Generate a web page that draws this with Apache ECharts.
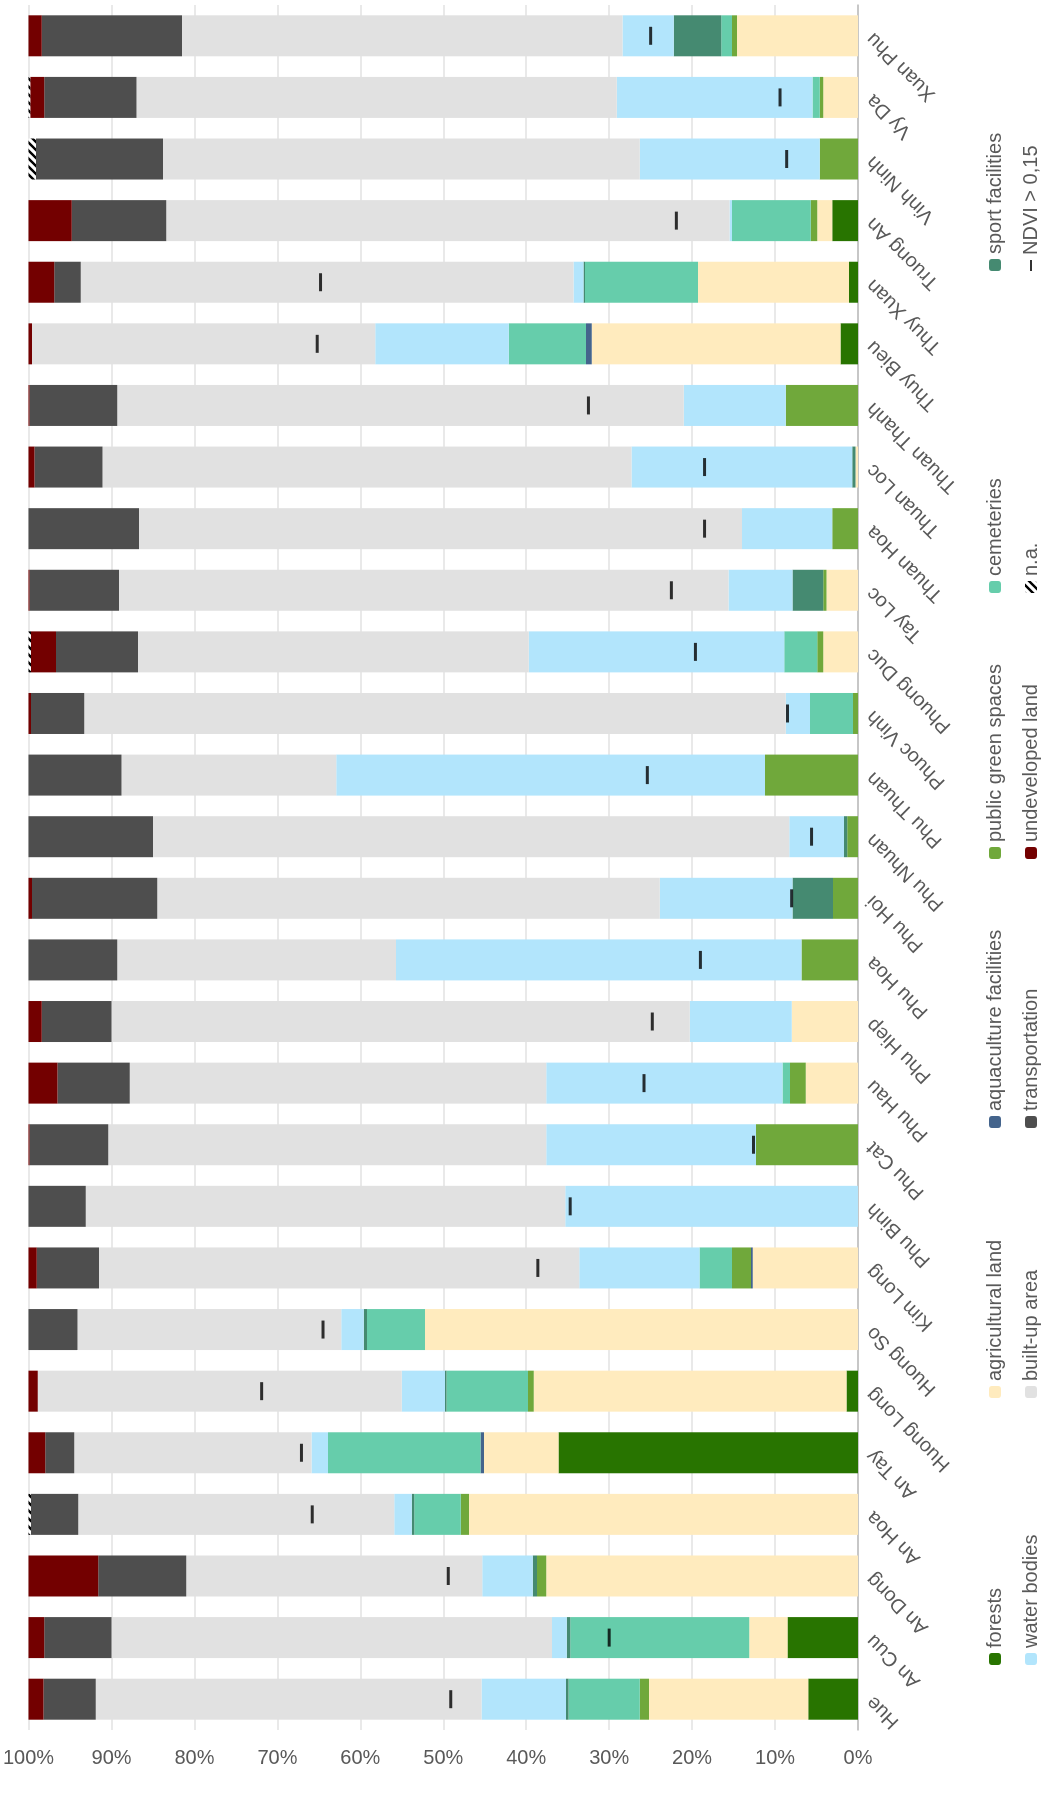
<!DOCTYPE html>
<html>
<head>
<meta charset="utf-8">
<title>Land use by ward</title>
<script src="https://cdn.jsdelivr.net/npm/echarts@6/dist/echarts.min.js"></script>
<style>
  html, body { margin: 0; padding: 0; width: 1047px; height: 1802px; overflow: hidden; background: #fff; }
  /* the chart is laid out landscape and turned a quarter turn counter-clockwise */
  #chart { position: absolute; left: 0; top: 0; width: 1802px; height: 1047px;
           transform-origin: 0 0; transform: translateY(1802px) rotate(-90deg); }
</style>
</head>
<body>
<div id="chart"></div>
<script>
// wards
const categories = ['Hue','An Cuu','An Dong','An Hoa','An Tay','Huong Long','Huong So','Kim Long','Phu Binh','Phu Cat',
  'Phu Hau','Phu Hiep','Phu Hoa','Phu Hoi','Phu Nhuan','Phu Thuan','Phuoc Vinh','Phuong Duc','Tay Loc','Thuan Hoa',
  'Thuan Loc','Thuan Thanh','Thuy Bieu','Thuy Xuan','Truong An','Vinh Ninh','Vy Da','Xuan Phu'];

// land-use shares in percent, one value per ward
const forests       = [6.0, 8.5, 0, 0, 36.1, 1.4, 0, 0, 0, 0, 0, 0, 0, 0, 0, 0, 0, 0, 0, 0, 0, 0, 2.1, 1.1, 3.1, 0, 0, 0];
const agricultural  = [19.2, 4.6, 37.6, 46.9, 9.0, 37.7, 52.2, 12.7, 0, 0, 6.3, 8.0, 0, 0, 0, 0, 0, 4.2, 3.8, 0, 0.3, 0, 30.0, 18.2, 1.8, 0, 4.2, 14.6];
const aquaculture   = [0, 0, 0, 0, 0.4, 0, 0, 0.2, 0, 0, 0, 0, 0, 0, 0, 0, 0, 0, 0, 0, 0, 0, 0.7, 0, 0, 0, 0, 0];
const publicGreen   = [1.1, 0, 1.1, 1.0, 0, 0.7, 0, 2.3, 0, 12.3, 1.9, 0, 6.8, 3.0, 1.3, 11.2, 0.6, 0.7, 0.4, 3.1, 0, 8.7, 0, 0, 0.8, 4.6, 0.4, 0.6];
const cemeteries    = [8.6, 21.6, 0, 5.6, 18.4, 9.8, 7.0, 3.9, 0, 0, 0.9, 0, 0, 0, 0, 0, 5.2, 4.0, 0, 0, 0, 0, 9.3, 13.6, 9.5, 0, 0.9, 1.3];
const sport         = [0.3, 0.4, 0.5, 0.3, 0, 0.2, 0.4, 0, 0, 0, 0, 0, 0, 4.9, 0.4, 0, 0, 0, 3.7, 0, 0.4, 0, 0, 0.2, 0, 0, 0, 5.7];
const water         = [10.2, 1.8, 6.1, 2.1, 2.0, 5.2, 2.7, 14.5, 35.3, 25.3, 28.5, 12.3, 48.9, 16.0, 6.6, 51.7, 2.9, 30.8, 7.7, 10.9, 26.6, 12.3, 16.1, 1.2, 0.3, 21.7, 23.6, 6.2];
const builtUp       = [46.5, 53.1, 35.7, 38.1, 28.6, 43.9, 31.8, 57.9, 57.8, 52.8, 50.2, 69.7, 33.6, 60.6, 76.7, 25.9, 84.6, 47.1, 73.5, 72.7, 63.8, 68.3, 41.4, 59.4, 67.9, 57.5, 57.9, 53.1];
const transport     = [6.3, 8.1, 10.6, 5.7, 3.5, 0, 5.9, 7.5, 6.9, 9.5, 8.7, 8.4, 10.7, 15.1, 15.0, 11.2, 6.4, 9.9, 10.8, 13.3, 8.2, 10.6, 0, 3.2, 11.4, 15.3, 11.1, 16.9];
const undeveloped   = [1.8, 1.9, 8.4, 0, 2.0, 1.1, 0, 1.0, 0, 0.1, 3.5, 1.6, 0, 0.4, 0, 0, 0.3, 3.0, 0.1, 0, 0.7, 0.1, 0.4, 3.1, 5.2, 0, 1.7, 1.6];
const notAvailable  = [0, 0, 0, 0.3, 0, 0, 0, 0, 0, 0, 0, 0, 0, 0, 0, 0, 0, 0.3, 0, 0, 0, 0, 0, 0, 0, 0.9, 0.2, 0];

// share of area with NDVI > 0.15, percent
const ndvi = [49.1, 30.0, 49.4, 65.8, 67.1, 71.9, 64.5, 38.6, 34.7, 12.6, 25.8, 24.8, 19.0, 8.0, 5.6, 25.4, 8.5, 19.6, 22.5, 18.5,
  18.5, 32.5, 65.2, 64.8, 21.9, 8.6, 9.4, 25.0];

// value axis ticks
const valueTicks = [0, 10, 20, 30, 40, 50, 60, 70, 80, 90, 100];

const FONT = '"Liberation Sans", Arial, sans-serif';
const TEXT = '#595959';

// diagonal hatch for "n.a."
function hatch() {
  const c = document.createElement('canvas');
  c.width = 8; c.height = 8;
  const g = c.getContext('2d');
  g.fillStyle = '#fff'; g.fillRect(0, 0, 8, 8);
  g.strokeStyle = '#000'; g.lineWidth = 2.4;
  g.beginPath();
  g.moveTo(-2, 10); g.lineTo(10, -2);
  g.moveTo(-6, 6); g.lineTo(6, -6);
  g.moveTo(2, 14); g.lineTo(14, 2);
  g.stroke();
  return { image: c, repeat: 'repeat' };
}

const stacks = [
  ['forests', forests, '#287400'],
  ['agricultural land', agricultural, '#ffebbe'],
  ['aquaculture facilities', aquaculture, '#44648c'],
  ['public green spaces', publicGreen, '#70a83b'],
  ['cemeteries', cemeteries, '#66cdab'],
  ['sport facilities', sport, '#458a71'],
  ['water bodies', water, '#b2e5fc'],
  ['built-up area', builtUp, '#e1e1e1'],
  ['transportation', transport, '#4e4e4e'],
  ['undeveloped land', undeveloped, '#730000'],
  ['n.a.', notAvailable, hatch()]
];

const series = stacks.map(([name, data, color]) => ({
  name, type: 'bar', stack: 'total', data,
  barWidth: 41,
  itemStyle: { color },
  emphasis: { disabled: true },
  animation: false
}));

series.push({
  name: 'NDVI > 0,15', type: 'scatter', data: ndvi,
  symbol: 'rect', symbolSize: [18, 3],
  itemStyle: { color: '#000' },
  z: 5, animation: false, emphasis: { disabled: true }
});

const legendBase = {
  orient: 'vertical', itemGap: 16, itemWidth: 12, itemHeight: 12, padding: 0,
  selectedMode: false,
  textStyle: { fontSize: 20, color: TEXT, fontFamily: FONT }
};

const chart = echarts.init(document.getElementById('chart'), null, { renderer: 'canvas' });
chart.setOption({
  animation: false,
  backgroundColor: '#fff',
  grid: { left: 72, right: 5, top: 22, bottom: 189, containLabel: false },
  xAxis: {
    type: 'category', data: categories,
    axisLine: { lineStyle: { color: '#bcbcbc', width: 1.5 } },
    axisTick: { show: false },
    axisLabel: { interval: 0, rotate: 45, margin: 12, fontSize: 20, color: TEXT, fontFamily: FONT }
  },
  yAxis: {
    type: 'value', min: valueTicks[0], max: valueTicks[valueTicks.length - 1], interval: 10,
    axisLine: { show: false }, axisTick: { show: false },
    splitLine: { lineStyle: { color: '#e2e2e2', width: 1.5 } },
    axisLabel: { rotate: -90, margin: 18, fontSize: 20, color: TEXT, fontFamily: FONT, formatter: '{value}%' }
  },
  legend: [
    Object.assign({}, legendBase, { data: ['forests', 'water bodies'], left: 137, top: 985 }),
    Object.assign({}, legendBase, { data: ['agricultural land', 'built-up area'], left: 404, top: 985 }),
    Object.assign({}, legendBase, { data: ['aquaculture facilities', 'transportation'], left: 674, top: 985 }),
    Object.assign({}, legendBase, { data: ['public green spaces', 'undeveloped land'], left: 943, top: 985 }),
    Object.assign({}, legendBase, { data: ['cemeteries', 'n.a.'], left: 1209, top: 985 }),
    Object.assign({}, legendBase, { data: ['sport facilities'], left: 1531, top: 985 }),
    Object.assign({}, legendBase, { data: [{ name: 'NDVI > 0,15', icon: 'rect' }], left: 1531, top: 1021, itemWidth: 11, itemHeight: 2 })
  ],
  series
});
</script>
</body>
</html>
